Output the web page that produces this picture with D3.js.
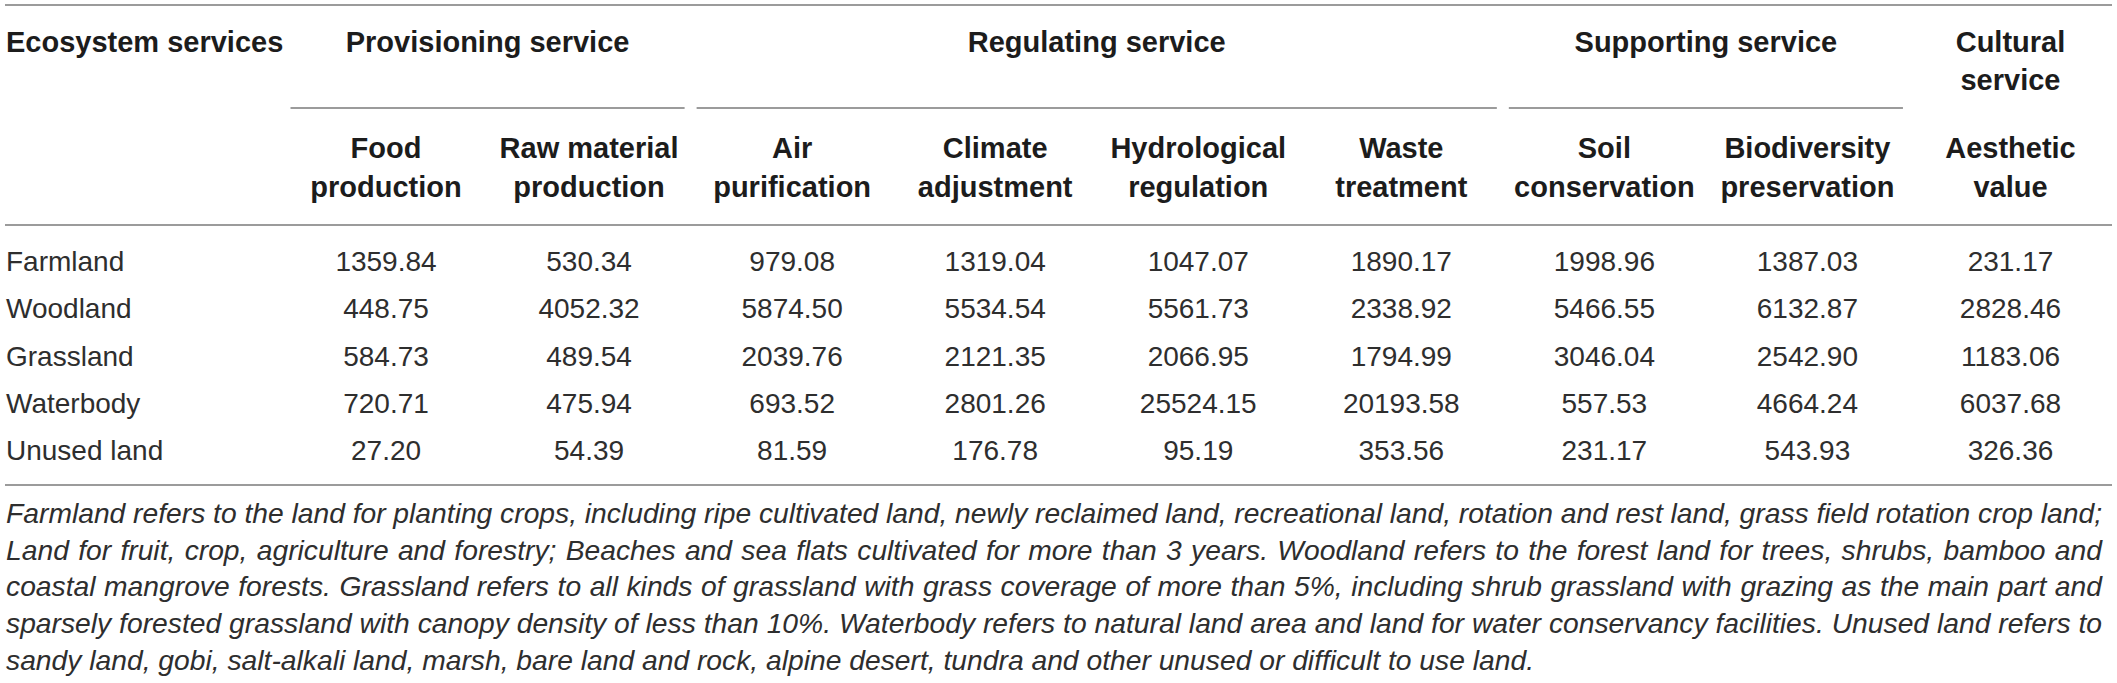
<!DOCTYPE html>
<html>
<head>
<meta charset="utf-8">
<script src="https://cdn.jsdelivr.net/npm/d3@7/dist/d3.min.js"></script>
<style>
  html, body { margin: 0; padding: 0; background: #fff; }
  svg { display: block; }
  text { font-family: "Liberation Sans", Arial, Helvetica, sans-serif; }
</style>
</head>
<body>
<svg id="chart" width="2117" height="683"></svg>
<script>
// ---------- data ----------
const cornerLabel = "Ecosystem services";
const groupLines = [["Provisioning service"], ["Regulating service"], ["Supporting service"], ["Cultural", "service"]];
const groupSpans = [2, 4, 2, 1];
const serviceLines = [
  ["Food", "production"], ["Raw material", "production"], ["Air", "purification"],
  ["Climate", "adjustment"], ["Hydrological", "regulation"], ["Waste", "treatment"],
  ["Soil", "conservation"], ["Biodiversity", "preservation"], ["Aesthetic", "value"]
];
const landTypes = ["Farmland", "Woodland", "Grassland", "Waterbody", "Unused land"];
const farmland  = [1359.84, 530.34, 979.08, 1319.04, 1047.07, 1890.17, 1998.96, 1387.03, 231.17];
const woodland  = [448.75, 4052.32, 5874.50, 5534.54, 5561.73, 2338.92, 5466.55, 6132.87, 2828.46];
const grassland = [584.73, 489.54, 2039.76, 2121.35, 2066.95, 1794.99, 3046.04, 2542.90, 1183.06];
const waterbody = [720.71, 475.94, 693.52, 2801.26, 25524.15, 20193.58, 557.53, 4664.24, 6037.68];
const unusedLand = [27.20, 54.39, 81.59, 176.78, 95.19, 353.56, 231.17, 543.93, 326.36];
const noteLines = [
  "Farmland refers to the land for planting crops, including ripe cultivated land, newly reclaimed land, recreational land, rotation and rest land, grass field rotation crop land;",
  "Land for fruit, crop, agriculture and forestry; Beaches and sea flats cultivated for more than 3 years. Woodland refers to the forest land for trees, shrubs, bamboo and",
  "coastal mangrove forests. Grassland refers to all kinds of grassland with grass coverage of more than 5%, including shrub grassland with grazing as the main part and",
  "sparsely forested grassland with canopy density of less than 10%. Waterbody refers to natural land area and land for water conservancy facilities. Unused land refers to",
  "sandy land, gobi, salt-alkali land, marsh, bare land and rock, alpine desert, tundra and other unused or difficult to use land."
];
const tableValues = [farmland, woodland, grassland, waterbody, unusedLand];

// ---------- layout ----------
const svg = d3.select("#chart");
const leftX = 5, rightX = 2112, firstColX = 284.5;
const lineColor = "#9b9b9b";
const textColor = "#1c1c1c";
const bodyColor = "#2e2e2e";
const headSize = 29;
const fmt = d3.format(".2f");

const colIdx = d3.range(serviceLines.length);
const x = d3.scaleBand().domain(colIdx).range([firstColX, rightX]);
const y = d3.scalePoint().domain(landTypes).range([271, 460]);

// horizontal rules
const rules = [5, 225, 485];
svg.selectAll("line.rule").data(rules).join("line")
  .attr("class", "rule")
  .attr("x1", leftX).attr("x2", rightX)
  .attr("y1", d => d).attr("y2", d => d)
  .attr("stroke", lineColor).attr("stroke-width", 2);

// corner label
svg.append("text")
  .attr("x", 6).attr("y", 52)
  .attr("font-size", headSize).attr("font-weight", "bold").attr("fill", textColor)
  .text(cornerLabel);

// group headers
let start = 0;
const groups = groupLines.map((lines, i) => {
  const g = { lines, start, end: start + groupSpans[i] - 1 };
  start += groupSpans[i];
  return g;
});
groups.forEach(g => {
  const x0 = x(g.start), x1 = x(g.end) + x.bandwidth();
  const cx = (x0 + x1) / 2;
  const t = svg.append("text")
    .attr("text-anchor", "middle")
    .attr("font-size", headSize).attr("font-weight", "bold").attr("fill", textColor);
  g.lines.forEach((ln, k) => {
    t.append("tspan").attr("x", cx).attr("y", 52 + k * 38).text(ln);
  });
  if (g.end > g.start) {
    svg.append("line")
      .attr("x1", x0 + 6).attr("x2", x1 - 6)
      .attr("y1", 108).attr("y2", 108)
      .attr("stroke", lineColor).attr("stroke-width", 2);
  }
});

// service sub-headers
serviceLines.forEach((lines, i) => {
  const cx = x(i) + x.bandwidth() / 2;
  const t = svg.append("text")
    .attr("text-anchor", "middle")
    .attr("font-size", headSize).attr("font-weight", "bold").attr("fill", textColor);
  lines.forEach((ln, k) => {
    t.append("tspan").attr("x", cx).attr("y", 158 + k * 39).text(ln);
  });
});

// row labels
svg.selectAll("text.rowlab").data(landTypes).join("text")
  .attr("class", "rowlab")
  .attr("x", 6).attr("y", d => y(d))
  .attr("font-size", 28).attr("fill", bodyColor)
  .text(d => d);

// cells
const rowsG = svg.selectAll("g.row").data(tableValues).join("g")
  .attr("class", "row");
rowsG.selectAll("text").data((vals, r) => vals.map((v, c) => ({ v, c, r })))
  .join("text")
  .attr("x", d => x(d.c) + x.bandwidth() / 2)
  .attr("y", d => y(landTypes[d.r]))
  .attr("text-anchor", "middle")
  .attr("font-size", 28).attr("fill", bodyColor)
  .text(d => fmt(d.v));

// notes (justified)
const notesG = svg.append("g");
const noteTexts = notesG.selectAll("text").data(noteLines).join("text")
  .attr("x", 6)
  .attr("y", (d, i) => 523 + i * 36.7)
  .attr("font-size", 25).attr("font-style", "italic").attr("fill", bodyColor)
  .text(d => d);

// calibrate note font size from last (unjustified) line, then justify others
const lastNode = noteTexts.nodes()[noteLines.length - 1];
const lastW = lastNode.getComputedTextLength();
const targetLast = 1529;
const fs = 25 * targetLast / lastW;
noteTexts.attr("font-size", fs);
const targetW = 2102 - 6;
noteTexts.each(function (d, i) {
  if (i === noteLines.length - 1) return;
  const w = this.getComputedTextLength();
  const spaces = (d.match(/ /g) || []).length;
  this.setAttribute("word-spacing", ((targetW - w) / spaces).toFixed(3));
});
</script>
</body>
</html>
